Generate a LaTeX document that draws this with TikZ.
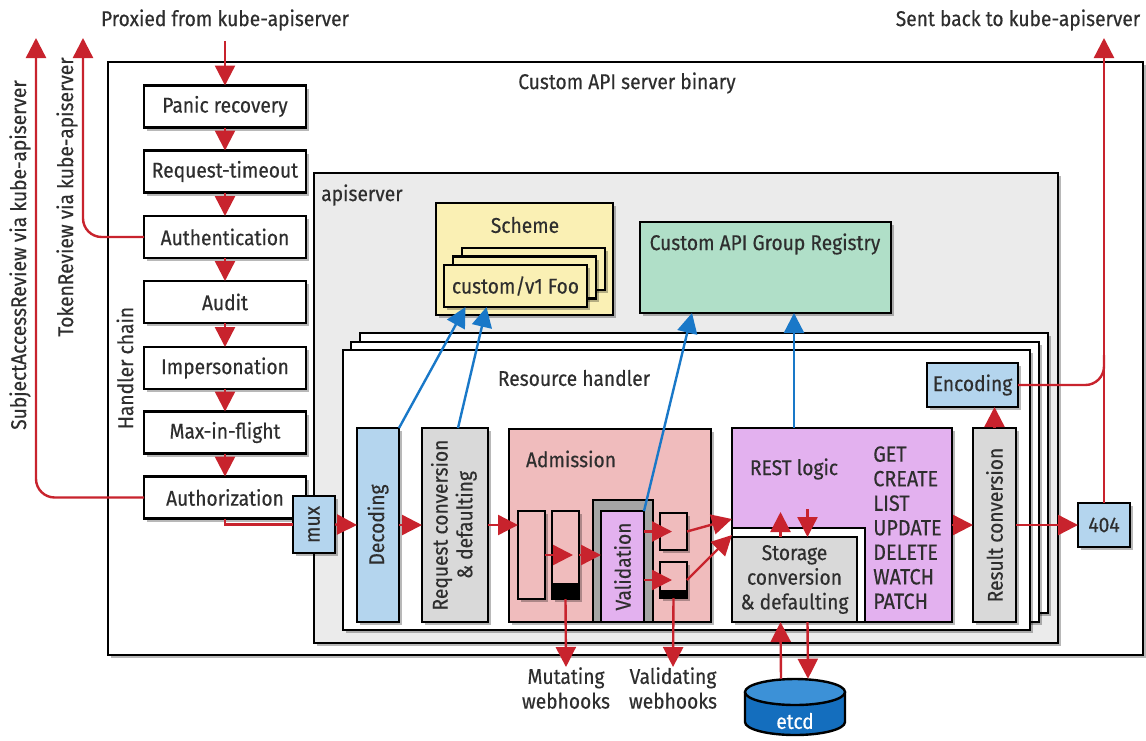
\documentclass[tikz,border=0pt]{standalone}
\usepackage{fontspec}
\usepackage{graphicx}
\setmainfont{Fira Sans}[FakeStretch=0.9,FakeBold=0.4]
\usetikzlibrary{arrows.meta,calc,shadows}
\definecolor{myred}{RGB}{200,35,45}
\definecolor{myblue}{RGB}{25,120,200}
\definecolor{lblue}{RGB}{180,213,238}
\definecolor{lgray}{RGB}{217,217,217}
\definecolor{apigray}{RGB}{235,235,235}
\definecolor{yel}{RGB}{250,240,180}
\definecolor{grn}{RGB}{176,223,200}
\definecolor{pink}{RGB}{240,188,189}
\definecolor{purp}{RGB}{227,177,239}
\definecolor{etcdlight}{RGB}{60,145,215}
\definecolor{etcddark}{RGB}{20,110,190}
\definecolor{notchgray}{RGB}{165,165,165}
\begin{document}
\begin{tikzpicture}[x=0.75pt,y=-0.75pt,
  font=\fontsize{16}{18.5}\selectfont, text=black!82,
  pbox/.style={draw=black, line width=2.1pt, inner sep=0pt, outer sep=0pt, align=center},
  box/.style={pbox, drop shadow={shadow xshift=2.5pt,shadow yshift=-2.5pt,opacity=0.28,fill=black}},
  thin/.style={line width=1.7pt},
  sz/.style 2 args={minimum width={#1*0.75pt}, minimum height={#2*0.75pt}},
  rl/.style={draw=myred, line width=1.8pt},
  ra/.style={rl, -{Triangle[length=15pt,width=15pt]}},
  ba/.style={draw=myblue, line width=1.8pt, -{Triangle[length=15pt,width=15pt]}},
  lbl/.style={inner sep=0pt, align=center}
]
\useasboundingbox (0,0) rectangle (1146,740);
\fill[white] (0,0) rectangle (1146,740);

% outer binary box
\node[box, fill=white, sz={1035}{593}] (outer) at (625.5,358.5) {};
\node[lbl] (title) at (627,83) {Custom API server binary};

% top labels
\node[lbl] (prox) at (225,20) {Proxied from kube-apiserver};
\node[lbl] (sent) at (1018,20) {Sent back to kube-apiserver};
\coordinate (sentEnd) at (1104,38);
\coordinate (tokEnd) at (83,38);
\coordinate (sarEnd) at (36,38);
\coordinate (encJoin) at (1104,355);

% side rotated labels
\node[lbl, rotate=90] (tokl) at (67,197) {TokenReview via kube-apiserver};
\node[lbl, rotate=90] (sarl) at (20,255) {SubjectAccessReview via kube-apiserver};
\node[lbl, rotate=90] (hcl) at (125,368) {Handler chain};

% handler chain
\node[box, fill=white, sz={162}{42}] (panic) at (225,106.5) {Panic recovery};
\node[box, fill=white, sz={162}{42}] (timeout) at (225,171.5) {Request-timeout};
\node[box, fill=white, sz={162}{42}] (authn) at (225,237) {Authentication};
\node[box, fill=white, sz={162}{42}] (audit) at (225,302) {Audit};
\node[box, fill=white, sz={162}{42}] (imp) at (225,368) {Impersonation};
\node[box, fill=white, sz={162}{42}] (mif) at (225,432.5) {Max-in-flight};
\node[box, fill=white, sz={162}{42}] (authz) at (225,497.5) {Authorization};

% apiserver
\node[box, fill=apigray, sz={744}{470}] (api) at (686,408) {};
\node[lbl, anchor=west] (apil) at (321,195) {apiserver};

% resource handler stack
\node[box, fill=white, sz={688}{280}] (rh3) at (704,473) {};
\node[box, fill=white, sz={688}{280}] (rh2) at (695,482) {};
\node[box, fill=white, sz={687}{280}] (rh1) at (686.5,490) {};
\node[lbl] (rhl) at (574,378) {Resource handler};

% scheme
\node[box, fill=yel, sz={177}{112}] (scheme) at (524.5,259) {};
\node[lbl] (schemel) at (525,225) {Scheme};
\node[box, thin, fill=yel, sz={143}{42}] (card3) at (533.5,269) {};
\node[box, thin, fill=yel, sz={143}{42}] (card2) at (524.5,277.5) {};
\node[box, thin, fill=yel, sz={143}{42}] (card1) at (515.5,286) {custom/v1 Foo};

% registry
\node[box, fill=grn, sz={251}{91}] (reg) at (765.5,267.5) {};
\node[lbl] (regl) at (765,244) {Custom API Group Registry};

% decoding, request conversion
\node[box, fill=lblue, sz={42}{194}] (dec) at (378,525) {\rotatebox{90}{Decoding}};
\node[box, fill=lgray, sz={66}{194}] (req) at (455,525) {\rotatebox{90}{\begin{tabular}{@{}c@{}}Request conversion\\\& defaulting\end{tabular}}};

% admission
\node[box, fill=pink, sz={202}{193}] (adm) at (610,525.5) {};
\node[lbl] (adml) at (571,459) {Admission};
\node[pbox, fill=notchgray, sz={60}{122}] (vnotch) at (623,561) {};
\node[pbox, fill=purp, sz={43}{111}] (valid) at (622.5,566.5) {\rotatebox{90}{Validation}};
\node[box, thin, fill=pink, sz={27}{88}] (rect1) at (531.5,555) {};
\node[box, thin, fill=pink, sz={27}{88}] (rect2) at (565.5,555) {};
\fill[black] (552,583) rectangle (579,599);
\node[box, thin, fill=pink, sz={27}{37}] (boxA) at (673.5,531.5) {};
\node[box, thin, fill=pink, sz={27}{36}] (boxB) at (673.5,580) {};
\fill[black] (660,590) rectangle (687,598);

% REST logic and storage
\node[box, fill=purp, sz={220}{194}] (rest) at (842,525) {};
\node[lbl] (restl) at (794,469) {REST logic};
\node[lbl, anchor=north west, align=left, font=\fontsize{16.5}{18.4}\selectfont] (verbs) at (873,446) {GET\\CREATE\\LIST\\UPDATE\\DELETE\\WATCH\\PATCH};
\node[pbox, fill=white, sz={133}{94}] (snotch) at (798.5,575) {};
\node[pbox, fill=lgray, sz={125}{85}] (storage) at (794.5,579.5) {Storage\\conversion\\\& defaulting};

% result, encoding, 404
\node[box, fill=lgray, sz={43}{194}] (result) at (994.5,525) {\rotatebox{90}{Result conversion}};
\node[box, fill=lblue, sz={91}{44}] (enc) at (972.5,385) {Encoding};
\node[box, fill=lblue, sz={52}{44}] (n404) at (1104,525) {404};

% mux on top
\node[box, fill=lblue, sz={42}{57}] (mux) at (314,524.5) {\rotatebox{90}{mux}};

% etcd cylinder
\node[inner sep=0pt, sz={100}{56}] (etcd) at (795,707) {};
\fill[etcddark] (745,692) rectangle (845,722);
\draw[line width=1.8pt, fill=etcddark] (745,692) -- (745,722) arc[start angle=180,end angle=0,x radius=50,y radius=13] -- (845,692);
\draw[line width=1.8pt, fill=etcdlight] (795,692) ellipse [x radius=50, y radius=13];
\node[lbl, text=white] (etcdl) at (795,721) {etcd};

% webhook labels
\node[lbl, anchor=north] (mut) at (566,667) {Mutating\\webhooks};
\node[lbl, anchor=north] (valt) at (673,667) {Validating\\webhooks};

% red connectors: handler chain
\draw[ra] ($(prox.south)+(0,10)$) -- (panic.north);
\draw[ra] (panic.south) -- (timeout.north);
\draw[ra] (timeout.south) -- (authn.north);
\draw[ra] (authn.south) -- (audit.north);
\draw[ra] (audit.south) -- (imp.north);
\draw[ra] (imp.south) -- (mif.north);
\draw[ra] (mif.south) -- (authz.north);
\draw[ra, rounded corners=14] (authn.west) -| (tokEnd);
\draw[ra, rounded corners=14] (authz.west) -| (sarEnd);
\draw[rl] (authz.south) |- (mux.west);

% request path
\draw[ra] (mux.east) -- (dec.west);
\draw[ra] (dec.east) -- (req.west);
\draw[ra] (req.east) -- (req.east -| rect1.west);
\draw[ra] (rect1.east) -- ($(rect2.west)+(21,0)$);
\draw[ra] (rect2.east) -- (rect2.east -| valid.west);
\draw[ra] (valid.east |- boxA.west) -- ($(boxA.west)+(12,0)$);
\draw[ra] (valid.east |- boxB.west) -- ($(boxB.west)+(12,0)$);
\draw[ra] (boxA.east) -- ($(rest.west)+(0,-6)$);
\draw[ra] (boxB.east) -- ($(storage.north west)+(0,-2)$);
\draw[ra] ($(storage.north)+(-14,0)$) -- ($(storage.north)+(-14,-25)$);
\draw[ra] ($(storage.north)+(13,-28)$) -- ($(storage.north)+(13,0)$);
\draw[ra] ($(etcd.north)+(-14,0)$) -- ($(storage.south)+(-14,0)$);
\draw[ra] ($(storage.south)+(13,0)$) -- ($(etcd.north)+(13,0)$);
\draw[ra] (rest.east) -- (result.west);
\draw[ra] (result.north) -- (result.north |- enc.south);
\draw[ra] (result.east) -- (n404.west);
\draw[ra] (n404.north) -- (sentEnd);
\draw[rl, rounded corners=14] (enc.east) -| (encJoin);
\draw[ra] (rect2.south) -- (mut.north);
\draw[ra] (boxB.south) -- (valt.north);

% blue connectors
\draw[ba] (dec.north east) -- ($(card1.south)+(-50,0)$);
\draw[ba] ($(req.north)+(3,0)$) -- ($(card1.south)+(-29,0)$);
\draw[ba] (valid.north east) -- ($(reg.south west)+(52,0)$);
\draw[ba] ($(rest.north west)+(62,0)$) -- ($(reg.south west)+(154,0)$);
\end{tikzpicture}
\end{document}
